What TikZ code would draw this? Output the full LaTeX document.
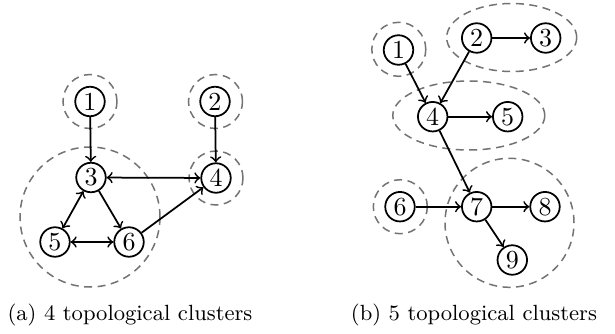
\documentclass[tikz,border=0pt]{standalone}
\usepackage{fontspec}
\usetikzlibrary{shapes.geometric}
\begin{document}
\begin{tikzpicture}[x=0.4pt,y=-0.4pt,
  vtx/.style={circle,draw,line width=0.7pt,inner sep=0pt,minimum size=11.8pt,font=\fontsize{10.4}{12}\selectfont},
  edge/.style={line width=0.7pt,->},
  bedge/.style={line width=0.7pt,<->},
  clus/.style={draw=black!55,line width=0.6pt,dash pattern=on 3.2pt off 2.2pt},
  captext/.style={anchor=base,inner sep=0pt,font=\fontsize{8.8}{11}\selectfont}]
\useasboundingbox (0,0) rectangle (615,334);
% ---------- (a) ----------
\node[vtx] (a1) at (90,101.5) {1};
\node[vtx] (a2) at (215,101.5) {2};
\node[vtx] (a3) at (91,177.5) {3};
\node[vtx] (a4) at (216,178) {4};
\node[vtx] (a5) at (55,242) {5};
\node[vtx] (a6) at (129,242) {6};
\node[clus,circle,minimum size=21.6pt,inner sep=0pt] (ca1) at (90,101.5) {};
\node[clus,circle,minimum size=21.6pt,inner sep=0pt] (ca2) at (215.5,101.5) {};
\node[clus,circle,minimum size=21.6pt,inner sep=0pt] (ca4) at (216,178) {};
\node[clus,circle,minimum size=56pt,inner sep=0pt] (ca356) at (90,217) {};
\draw[edge] (a1) -- (a3);
\draw[edge] (a2) -- (a4);
\draw[bedge] (a3) -- (a4);
\draw[bedge] (a3) -- (a5);
\draw[edge] (a3) -- (a6);
\draw[bedge] (a5) -- (a6);
\draw[edge] (a6) -- (a4);
\node[captext] (capa) at (130,320.5) {(a) 4 topological clusters};
% ---------- (b) ----------
\node[vtx] (b1) at (398.5,50) {1};
\node[vtx] (b2) at (476.7,38) {2};
\node[vtx] (b3) at (545.7,38) {3};
\node[vtx] (b4) at (432.7,116.7) {4};
\node[vtx] (b5) at (507.7,116.7) {5};
\node[vtx] (b6) at (400,206.7) {6};
\node[vtx] (b7) at (476.7,206.7) {7};
\node[vtx] (b8) at (545,206.7) {8};
\node[vtx] (b9) at (512.3,260) {9};
\node[clus,circle,minimum size=21.6pt,inner sep=0pt] (cb1) at (398.8,49.3) {};
\node[clus,ellipse,minimum width=52pt,minimum height=27.2pt,inner sep=0pt] (cb23) at (511.7,37.5) {};
\node[clus,ellipse,minimum width=60.8pt,minimum height=27.6pt,inner sep=0pt] (cb45) at (468.8,115.5) {};
\node[clus,circle,minimum size=21.6pt,inner sep=0pt] (cb6) at (400.3,206.7) {};
\node[clus,circle,minimum size=51.6pt,inner sep=0pt] (cb789) at (509.5,222.8) {};
\draw[edge] (b1) -- (b4);
\draw[edge] (b2) -- (b4);
\draw[edge] (b2) -- (b3);
\draw[edge] (b4) -- (b5);
\draw[edge] (b4) -- (b7);
\draw[edge] (b6) -- (b7);
\draw[edge] (b7) -- (b8);
\draw[edge] (b7) -- (b9);
\node[captext] (capb) at (474,320.5) {(b) 5 topological clusters};
\end{tikzpicture}
\end{document}
